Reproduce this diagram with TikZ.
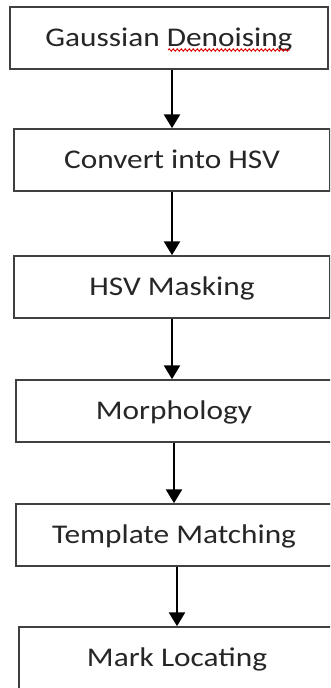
\documentclass[tikz,border=0pt]{standalone}
\usepackage{fontspec}
\setmainfont[FakeStretch=1.16]{Carlito}
\usetikzlibrary{arrows.meta,decorations.pathmorphing}
\begin{document}
\begin{tikzpicture}[x=1pt,y=-1pt,
  stepbox/.style={draw=black!75,line width=1.5pt,minimum width=316pt,minimum height=62pt,
    inner sep=0pt,text=black!85,font=\fontsize{27}{32}\selectfont,
    text height=17pt,text depth=0pt},
  arr/.style={line width=2.6pt,-{Triangle[width=16pt,length=14pt]}},
  squiggle/.style={red!85!black,line width=0.9pt,decorate,
    decoration={snake,amplitude=1.2pt,segment length=4pt}}]
\useasboundingbox (0,0) rectangle (330,688);
\clip (0,0) rectangle (330,688);
\fill[white] (0,0) rectangle (330,688);
\node[stepbox,minimum width=318pt] (b1) at (169,38) {Gaussian Denoising};
\node[stepbox] (b2) at (172,160) {Convert into HSV};
\node[stepbox] (b3) at (172,287) {HSV Masking};
\node[stepbox] (b4) at (174,411) {Morphology};
\node[stepbox] (b5) at (174,535) {Template Matching};
\node[stepbox] (b6) at (177,658) {Mark Locating};
\draw[arr] (b1.south -| b2.north) -- (b2.north);
\draw[arr] (b2.south) -- (b3.north);
\draw[arr] (b3.south) -- (b3.south |- b4.north);
\draw[arr] (b4.south) -- (b5.north);
\draw[arr] (b5.south -| b6.north) -- (b6.north);
\draw[squiggle] (168,50) -- (290,50);
\end{tikzpicture}
\end{document}
